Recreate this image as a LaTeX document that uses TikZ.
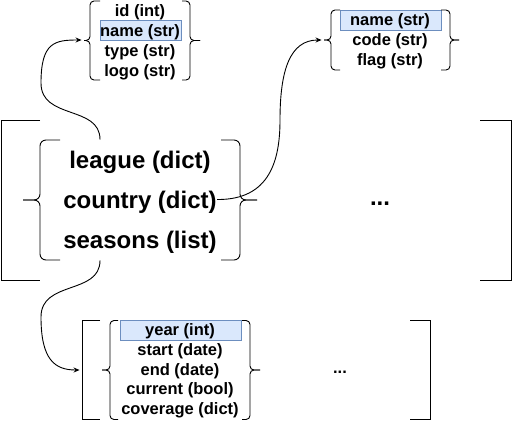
\documentclass[tikz,border=0pt]{standalone}
\usepackage{fontspec}
\setmainfont{Liberation Sans}
\usetikzlibrary{arrows.meta,calc}
\definecolor{hlfill}{HTML}{DAE8FC}
\definecolor{hldraw}{HTML}{6C8EBF}
\newcommand{\BraceShape}[6]{% #1 x of spine, #2 top y, #3 bottom y, #4 tip x, #5 stub end x, #6 radius
  \draw[rounded corners=#6] (#5,#2) -- (#1,#2) -- (#1,{(#2+#3)/2}) -- (#4,{(#2+#3)/2});
  \draw[rounded corners=#6] (#5,#3) -- (#1,#3) -- (#1,{(#2+#3)/2}) -- (#4,{(#2+#3)/2});}
\tikzset{
  small/.style={font=\fontsize{16.5}{20}\selectfont\bfseries, inner sep=0pt, anchor=center},
  big/.style={font=\fontsize{24}{28}\selectfont\bfseries, inner sep=0pt, anchor=center},
  hl/.style={draw=hldraw, fill=hlfill, line width=0.8pt, inner sep=0pt, minimum width=#1, minimum height=20pt},
  grp/.style={inner sep=0pt, draw=none},
  conn/.style={line width=0.9pt, -{Stealth[length=6pt,width=5pt]}},
}
\begin{document}
\begin{tikzpicture}[x=1pt,y=-1pt,line width=0.9pt]
\useasboundingbox (0,0) rectangle (521,421);

% group boxes (invisible, used as connector ends)
\node[grp, minimum width=118pt, minimum height=80pt] (topL) at (141,40) {};
\node[grp, minimum width=138pt, minimum height=60pt] (topR) at (391,40) {};
\node[grp, minimum width=234pt, minimum height=120pt] (main) at (140,200) {};
\node[grp, minimum width=350pt, minimum height=100pt] (bot) at (255,370) {};

% top-left dict
\node[hl=81pt] (hlA) at (140.5,30.5) {};
\node[small] (lid) at (140,12) {id (int)};
\node[small] (lname) at (140,32) {name (str)};
\node[small] (ltype) at (140,52) {type (str)};
\node[small] (llogo) at (140,72) {logo (str)};
\BraceShape{90}{1}{80}{84}{100}{4}
\BraceShape{190}{1}{80}{200}{182}{4}

% top-right dict
\node[hl=101pt] (hlB) at (390.5,20) {};
\node[small] (cname) at (390,21.5) {name (str)};
\node[small] (ccode) at (390,41.5) {code (str)};
\node[small] (cflag) at (390,61.5) {flag (str)};
\BraceShape{331}{10}{70}{324}{340}{4}
\BraceShape{450}{10}{70}{459}{441}{4}

% main list
\draw (40,120) -- (1.5,120) -- (1.5,280) -- (40,280);
\draw (480,120) -- (511.5,120) -- (511.5,280) -- (480,280);
\node[big] (league) at (140,162.5) {league (dict)};
\node[big] (country) at (140,202.5) {country (dict)};
\node[big] (seasons) at (140,242.5) {seasons (list)};
\BraceShape{40}{140}{260}{23}{60}{6}
\BraceShape{240}{140}{260}{257}{221}{6}
\node[big] (dots1) at (380,204) {...};

% seasons list
\draw (100,320.5) -- (82,320.5) -- (82,419.5) -- (100,419.5);
\draw (410,320.5) -- (430,320.5) -- (430,419.5) -- (410,419.5);
\node[hl=121pt] (hlC) at (180.5,330.5) {};
\node[small] (syear) at (180,331.5) {year (int)};
\node[small] (sstart) at (180,351.5) {start (date)};
\node[small] (send) at (180,371) {end (date)};
\node[small] (scurrent) at (180,390.5) {current (bool)};
\node[small] (scov) at (180,410) {coverage (dict)};
\BraceShape{110}{320.5}{419.5}{102}{118}{4}
\BraceShape{250}{320.5}{419.5}{260}{242}{4}
\node[small] (dots2) at (340,372.5) {...};

% connectors
\draw[conn] ([xshift=-40pt]main.north) .. controls (100,105) and (41,120) .. (41,83)
   .. controls (41,42) and (55,40) .. (topL.west);
\draw[conn] ([yshift=3pt]country.east) .. controls (270,200) and (280,160) .. (280,120)
   .. controls (280,70) and (290,40) .. (topR.west);
\draw[conn] ([xshift=-40pt]main.south) .. controls (100,295) and (41,280) .. (41,317)
   .. controls (41,360) and (55,370) .. (bot.west);
\end{tikzpicture}
\end{document}
